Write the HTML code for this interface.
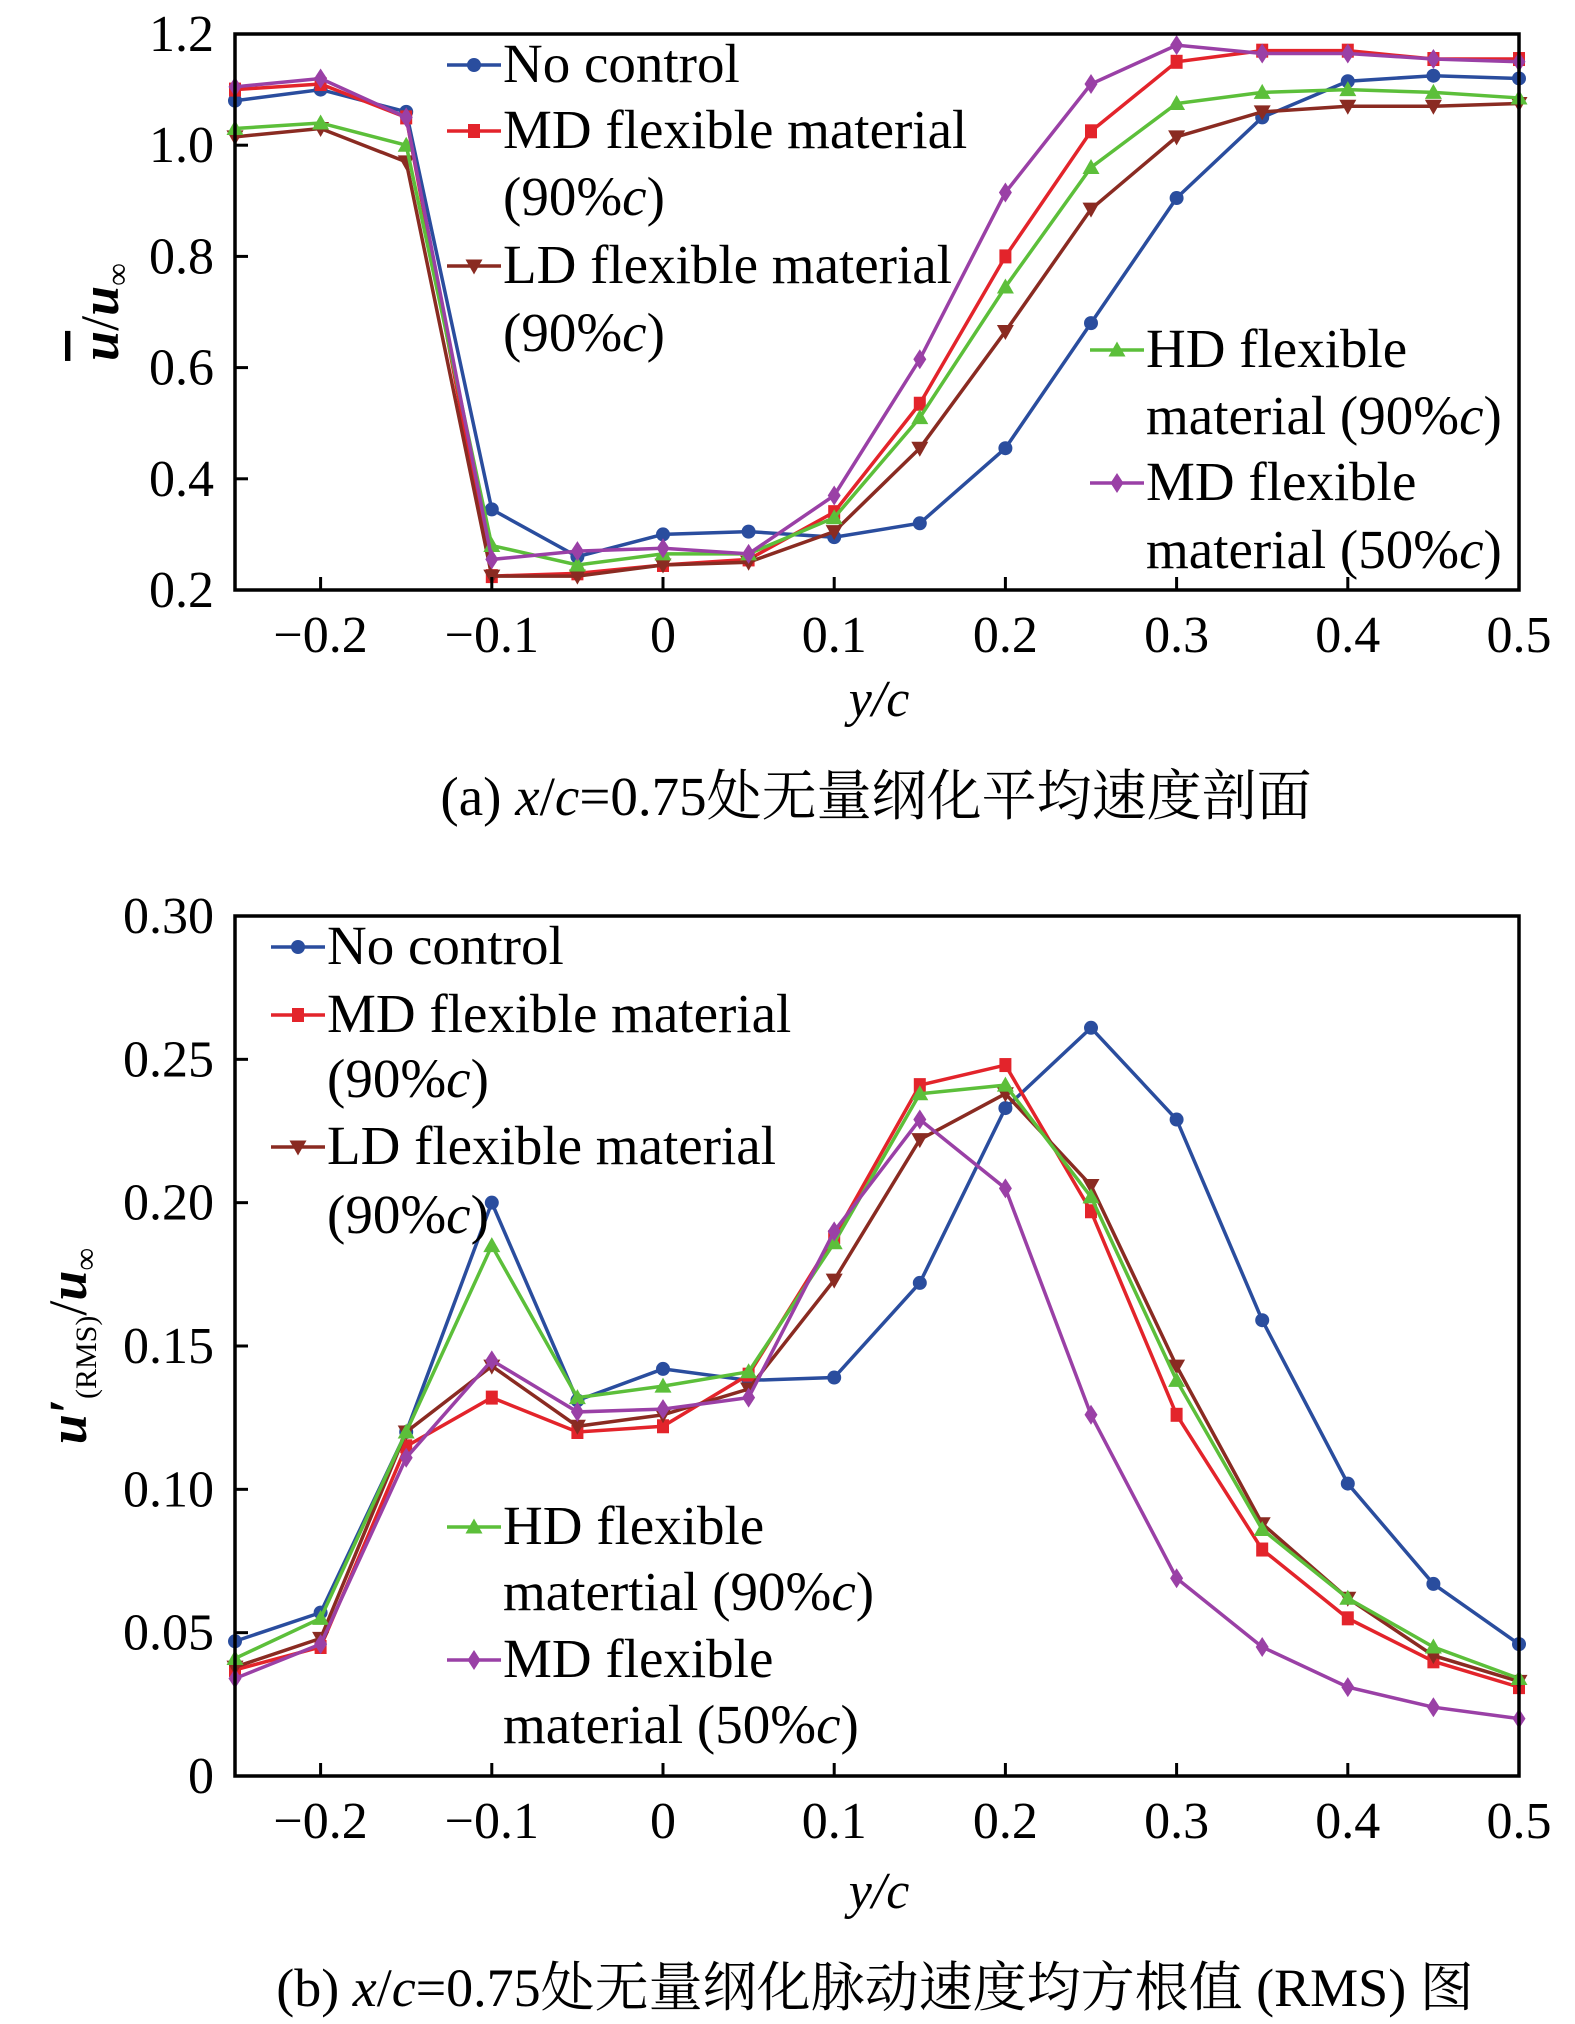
<!DOCTYPE html>
<html><head><meta charset="utf-8">
<style>
html,body{margin:0;padding:0;background:#fff;}
svg{display:block;font-family:"Liberation Serif","Noto Serif CJK SC",serif;}
</style></head>
<body>
<svg id="fig" width="1575" height="2024" viewBox="0 0 1575 2024" xmlns="http://www.w3.org/2000/svg">
<g id="chartA"></g>
<g id="chartB"></g>
<text x="879" y="716" font-size="52" font-style="italic" text-anchor="middle">y/c</text>
<text x="876" y="815" font-size="55" text-anchor="middle">(a) <tspan font-style="italic">x</tspan>/<tspan font-style="italic">c</tspan>=0.75处无量纲化平均速度剖面</text>
<text transform="translate(118,312) rotate(-90)" font-size="54" text-anchor="middle"><tspan font-style="italic" font-weight="bold" text-decoration="overline">u</tspan>/<tspan font-style="italic" font-weight="bold">u</tspan><tspan font-size="32" dy="10">∞</tspan></text>
<text x="879" y="1908" font-size="52" font-style="italic" text-anchor="middle">y/c</text>
<text x="875" y="2006" font-size="54" text-anchor="middle">(b) <tspan font-style="italic">x</tspan>/<tspan font-style="italic">c</tspan>=0.75处无量纲化脉动速度均方根值 (RMS) 图</text>
<text transform="translate(86,1346) rotate(-90)" font-size="54" text-anchor="middle"><tspan font-style="italic" font-weight="bold">u′</tspan><tspan font-size="30" dy="10">(RMS)</tspan><tspan dy="-10">/</tspan><tspan font-style="italic" font-weight="bold">u</tspan><tspan font-size="32" dy="10">∞</tspan></text>
</svg>
<script>
const yc = [-0.25,-0.2,-0.15,-0.1,-0.05,0,0.05,0.1,0.15,0.2,0.25,0.3,0.35,0.4,0.45,0.5];
const xTickVals = [-0.2,-0.1,0,0.1,0.2,0.3,0.4,0.5];
const xTickLabels = ["\u22120.2","\u22120.1","0","0.1","0.2","0.3","0.4","0.5"];
const meanNoControl = [1.08,1.10,1.06,0.345,0.26,0.30,0.305,0.295,0.32,0.455,0.68,0.905,1.05,1.115,1.125,1.12];
const meanMD90 = [1.10,1.11,1.05,0.225,0.23,0.245,0.255,0.34,0.535,0.80,1.025,1.15,1.17,1.17,1.155,1.155];
const meanLD90 = [1.015,1.03,0.97,0.225,0.225,0.245,0.25,0.305,0.455,0.665,0.885,1.015,1.06,1.07,1.07,1.075];
const meanHD90 = [1.03,1.04,1.0,0.28,0.245,0.265,0.265,0.33,0.51,0.745,0.96,1.075,1.095,1.10,1.095,1.085];
const meanMD50 = [1.105,1.12,1.05,0.255,0.27,0.275,0.265,0.37,0.615,0.915,1.11,1.18,1.165,1.165,1.155,1.15];
const meanTickVals = [0.2,0.4,0.6,0.8,1.0,1.2];
const meanTickLabels = ["0.2","0.4","0.6","0.8","1.0","1.2"];
const rmsNoControl = [0.047,0.057,0.12,0.20,0.131,0.142,0.138,0.139,0.172,0.233,0.261,0.229,0.159,0.102,0.067,0.046];
const rmsMD90 = [0.037,0.045,0.115,0.132,0.120,0.122,0.140,0.188,0.241,0.248,0.197,0.126,0.079,0.055,0.040,0.031];
const rmsLD90 = [0.038,0.048,0.12,0.143,0.122,0.126,0.135,0.173,0.222,0.238,0.206,0.143,0.088,0.062,0.042,0.033];
const rmsHD90 = [0.041,0.055,0.12,0.185,0.132,0.136,0.141,0.186,0.238,0.241,0.202,0.138,0.086,0.062,0.045,0.034];
const rmsMD50 = [0.034,0.046,0.111,0.145,0.127,0.128,0.132,0.19,0.229,0.205,0.126,0.069,0.045,0.031,0.024,0.020];
const rmsTickVals = [0,0.05,0.10,0.15,0.20,0.25,0.30];
const rmsTickLabels = ["0","0.05","0.10","0.15","0.20","0.25","0.30"];

const NS="http://www.w3.org/2000/svg";
const C={blue:"#2a4d9e",red:"#e3242b",brown:"#8a2b22",green:"#5cbf3a",purple:"#9a40a6"};
function mk(p,tag,attrs){const e=document.createElementNS(NS,tag);for(const k in attrs)e.setAttribute(k,attrs[k]);p.appendChild(e);return e;}
function marker(g,type,x,y,col){
  let e;
  if(type==="circle")e=mk(g,"circle",{cx:x,cy:y,r:7,fill:col});
  else if(type==="square")e=mk(g,"rect",{x:x-6,y:y-7,width:12,height:14,fill:col});
  else if(type==="down")e=mk(g,"polygon",{points:`${x-8.5},${y-6.5} ${x+8.5},${y-6.5} ${x},${y+8.5}`,fill:col});
  else if(type==="up")e=mk(g,"polygon",{points:`${x-8.5},${y+6.5} ${x+8.5},${y+6.5} ${x},${y-8.5}`,fill:col});
  else e=mk(g,"polygon",{points:`${x},${y-10} ${x+6.5},${y} ${x},${y+10} ${x-6.5},${y}`,fill:col});
  return e;
}
function chart(gid,top,bot,ymin,ymax,tv,tl,series,legend){
  const g=document.getElementById(gid);
  const L=235,R=1519;
  const sx=v=>L+(v+0.25)/0.75*(R-L);
  const sy=v=>bot-(v-ymin)/(ymax-ymin)*(bot-top);
  series.forEach(s=>{
    const sg=mk(g,"g",{});
    
    
    const pts=yc.map((x,i)=>sx(x)+","+sy(s.vals[i])).join(" ");
    const pl=mk(sg,"polyline",{points:pts,fill:"none",stroke:s.col,"stroke-width":3.5});
    
    
    yc.forEach((x,i)=>{
      const m=marker(sg,s.mk,sx(x),sy(s.vals[i]),s.col);
      
      
    });
  });
  const fr=mk(g,"rect",{x:L,y:top,width:R-L,height:bot-top,fill:"none",stroke:"#000","stroke-width":3.5});
  
  
  xTickVals.forEach((v,i)=>{
    const t=mk(g,"line",{x1:sx(v),x2:sx(v),y1:bot,y2:bot-13,stroke:"#000","stroke-width":3});
    
    
    const tx=mk(g,"text",{x:sx(v),y:bot+62,"font-size":52,"text-anchor":"middle"});
    tx.textContent=xTickLabels[i];
    
    
  });
  tv.forEach((v,i)=>{
    const t=mk(g,"line",{x1:L,x2:L+13,y1:sy(v),y2:sy(v),stroke:"#000","stroke-width":3});
    
    
    const tx=mk(g,"text",{x:214,y:sy(v)+17,"font-size":52,"text-anchor":"end"});
    tx.textContent=tl[i];
    
    
  });
  legend.forEach(l=>{
    const lg=mk(g,"g",{});
    
    
    if(l.col){
      mk(lg,"line",{x1:l.x-56,x2:l.x-2,y1:l.y-17,y2:l.y-17,stroke:l.col,"stroke-width":3.5});
      marker(lg,l.mk,l.x-29,l.y-17,l.col);
    }
    const tx=mk(lg,"text",{x:l.x,y:l.y,"font-size":55});
    tx.innerHTML=l.text.replace("%c","%<tspan font-style='italic'>c</tspan>");
  });
}
chart("chartA",34,590,0.2,1.2,meanTickVals,meanTickLabels,[
 {name:"no-control",vals:meanNoControl,col:C.blue,mk:"circle"},
 {name:"md-90",vals:meanMD90,col:C.red,mk:"square"},
 {name:"ld-90",vals:meanLD90,col:C.brown,mk:"down"},
 {name:"hd-90",vals:meanHD90,col:C.green,mk:"up"},
 {name:"md-50",vals:meanMD50,col:C.purple,mk:"diamond"}],[
 {x:503,y:82,text:"No control",col:C.blue,mk:"circle"},
 {x:503,y:148,text:"MD flexible material",col:C.red,mk:"square"},
 {x:503,y:215,text:"(90%c)"},
 {x:503,y:283,text:"LD flexible material",col:C.brown,mk:"down"},
 {x:503,y:351,text:"(90%c)"},
 {x:1146,y:367,text:"HD flexible",col:C.green,mk:"up"},
 {x:1146,y:434,text:"material (90%c)"},
 {x:1146,y:500,text:"MD flexible",col:C.purple,mk:"diamond"},
 {x:1146,y:568,text:"material (50%c)"}]);
chart("chartB",916,1776,0,0.30,rmsTickVals,rmsTickLabels,[
 {name:"no-control",vals:rmsNoControl,col:C.blue,mk:"circle"},
 {name:"md-90",vals:rmsMD90,col:C.red,mk:"square"},
 {name:"ld-90",vals:rmsLD90,col:C.brown,mk:"down"},
 {name:"hd-90",vals:rmsHD90,col:C.green,mk:"up"},
 {name:"md-50",vals:rmsMD50,col:C.purple,mk:"diamond"}],[
 {x:327,y:964,text:"No control",col:C.blue,mk:"circle"},
 {x:327,y:1032,text:"MD flexible material",col:C.red,mk:"square"},
 {x:327,y:1097,text:"(90%c)"},
 {x:327,y:1164,text:"LD flexible material",col:C.brown,mk:"down"},
 {x:327,y:1233,text:"(90%c)"},
 {x:503,y:1544,text:"HD flexible",col:C.green,mk:"up"},
 {x:503,y:1610,text:"matertial (90%c)"},
 {x:503,y:1677,text:"MD flexible",col:C.purple,mk:"diamond"},
 {x:503,y:1743,text:"material (50%c)"}]);
</script>
</body></html>
